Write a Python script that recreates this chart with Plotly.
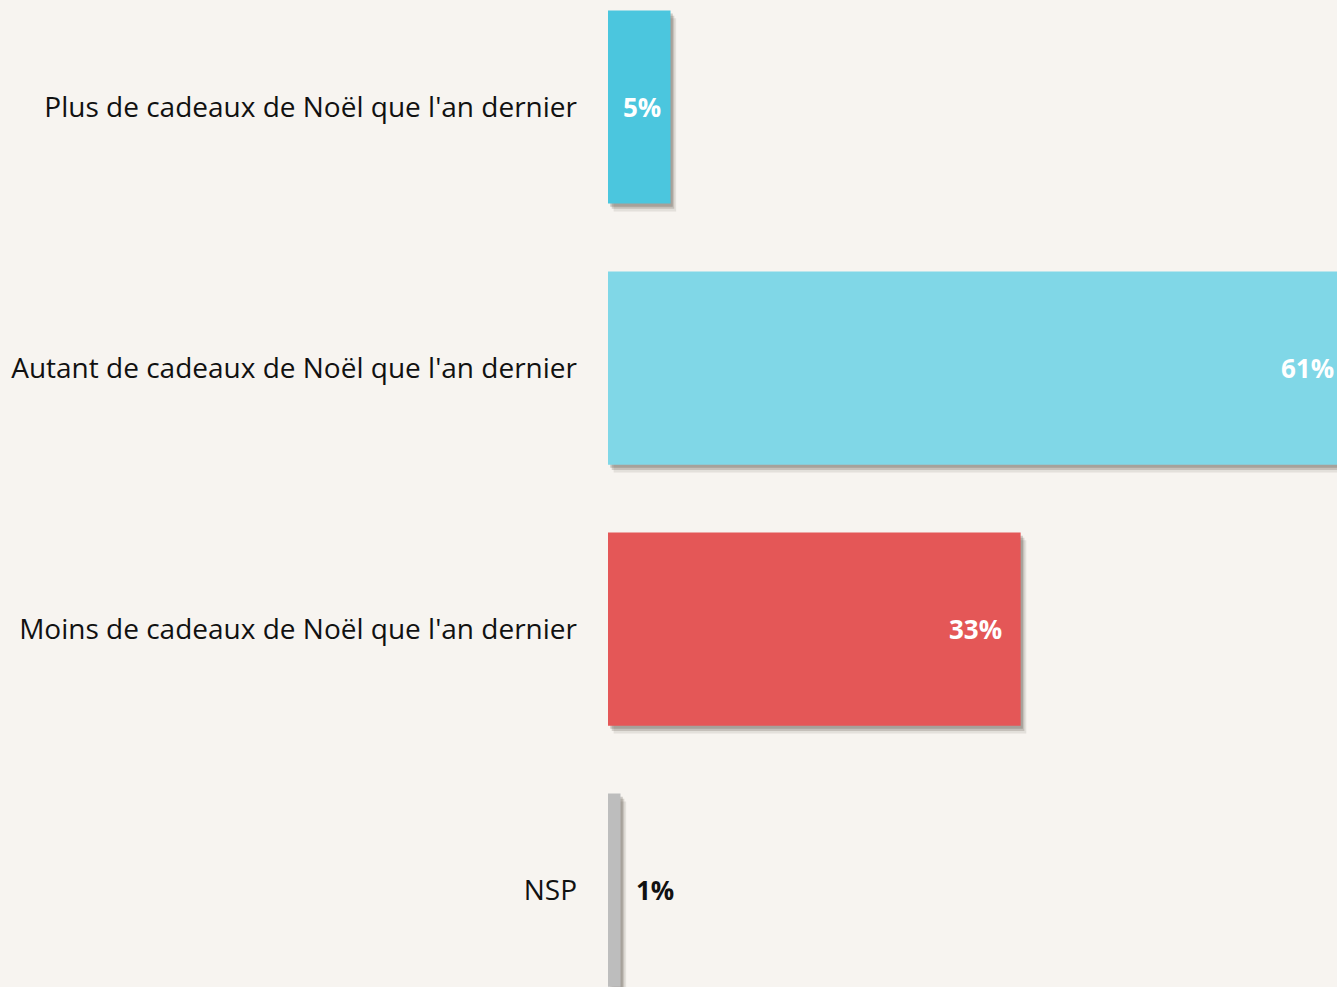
import plotly.graph_objects as go

categories = [
    "Plus de cadeaux de Noël que l'an dernier",
    "Autant de cadeaux de Noël que l'an dernier",
    "Moins de cadeaux de Noël que l'an dernier",
    "NSP",
]
values = [5, 61, 33, 1]
labels = ["5%", "61%", "33%", "1%"]
colors = ["#4BC6DE", "#80D7E7", "#E45757", "#BDBDBD"]
label_colors = ["white", "white", "white", "#111111"]

BG = "#F7F4F0"
BAR_W = 0.74
XMAX = 58.3
FONT = "Open Sans, Lato, sans-serif"

fig = go.Figure()

# soft shadow layers
for dx, dy, a in [(0.45, 0.03, 0.10), (0.3, 0.02, 0.18), (0.18, 0.012, 0.22)]:
    fig.add_trace(go.Bar(
        y=categories, x=values, base=dx, orientation="h",
        width=BAR_W, offset=-BAR_W / 2 + dy,
        marker=dict(color=f"rgba(60,50,40,{a})", line=dict(width=0)),
        hoverinfo="skip", showlegend=False,
    ))

fig.add_trace(go.Bar(
    y=categories, x=values, orientation="h",
    width=BAR_W, offset=-BAR_W / 2,
    marker=dict(color=colors, line=dict(width=0)),
    showlegend=False,
))

# value labels
for cat, v, lab, col in zip(categories, values, labels, label_colors):
    if v >= 20:
        x, anchor = min(v - 1.35, XMAX - 0.05), "right"
    elif v >= 3:
        x, anchor = v / 2 + 0.25, "center"
    else:
        x, anchor = v + 1.1, "left"
    fig.add_annotation(
        x=x, y=cat, text=lab, showarrow=False, xanchor=anchor, yanchor="middle",
        yshift=0,
        font=dict(family=FONT, size=26, color=col, weight="bold"),
    )

fig.update_layout(
    width=1337, height=987,
    margin=dict(l=608, r=0, t=0, b=0),
    paper_bgcolor=BG, plot_bgcolor=BG,
    barmode="overlay",
    xaxis=dict(range=[0, XMAX], visible=False, showgrid=False, zeroline=False),
    yaxis=dict(
        range=[3.371, -0.41], showgrid=False, zeroline=False, showline=False,
        ticks="", ticklabelstandoff=30,
        tickfont=dict(family=FONT, size=28, color="#111111"),
    ),
    font=dict(family=FONT),
)

fig.write_html("out.html", config={"displayModeBar": False})
with open("out.html", encoding="utf-8") as f:
    html = f.read()
html = html.replace("<body>", '<body style="margin:0;overflow:hidden;background:#F7F4F0">', 1)
with open("out.html", "w", encoding="utf-8") as f:
    f.write(html)
